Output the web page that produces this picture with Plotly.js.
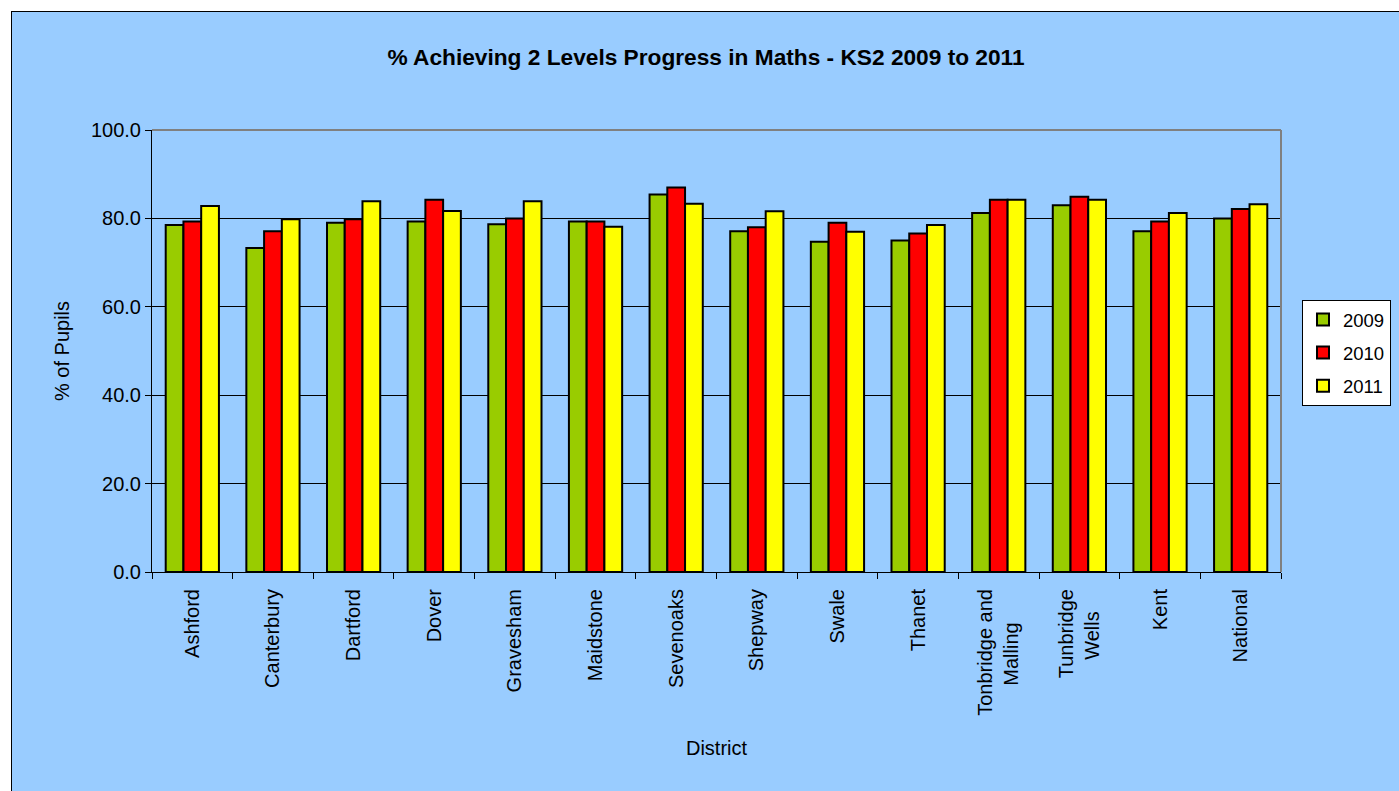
<!DOCTYPE html>
<html>
<head>
<meta charset="utf-8">
<script src="https://cdn.plot.ly/plotly-3.0.1.min.js"></script>
<style>
html,body{margin:0;padding:0;background:#ffffff;overflow:hidden;}
#frame{position:absolute;left:11px;top:11px;width:1388px;height:780px;border-left:1px solid #000;border-top:1px solid #000;background:#99CCFF;}
#chart{width:1388px;height:780px;}
</style>
</head>
<body>
<div id="frame"><div id="chart"></div></div>
<script>
const districts = ["Ashford","Canterbury","Dartford","Dover","Gravesham","Maidstone","Sevenoaks","Shepway","Swale","Thanet","Tonbridge and<br>Malling\u00a0\u00a0\u00a0\u00a0\u00a0\u00a0","Tunbridge<br>Wells\u00a0\u00a0\u00a0\u00a0","Kent","National"];
const years = ["2009","2010","2011"];
const v2009 = [78.5,73.3,79.0,79.3,78.7,79.3,85.4,77.1,74.7,75.0,81.2,83.0,77.1,80.0];
const v2010 = [79.3,77.1,79.8,84.2,80.0,79.3,87.0,78.0,79.0,76.6,84.2,84.9,79.3,82.1];
const v2011 = [82.8,79.8,83.9,81.7,83.9,78.1,83.3,81.6,77.0,78.5,84.2,84.2,81.2,83.2];
const colors = ["#99CC00","#FF0000","#FFFF00"];
const series = [v2009,v2010,v2011];

const font = "'Liberation Sans', Arial, sans-serif";
const fs = 20;
const traces = series.map((vals,i)=>({
  type:"bar", name:years[i], x:districts, y:vals, legendgroup:years[i],
  marker:{color:colors[i], line:{color:"#000000", width:2}},
  hoverinfo:"x+y+name"
}));

const layout = {
  width:1388, height:780,
  paper_bgcolor:"#99CCFF", plot_bgcolor:"#99CCFF",
  margin:{l:140,r:119,t:118,b:220, autoexpand:false},
  barmode:"group", bargap:0.34, bargroupgap:0,
  font:{family:font, size:fs, color:"#000"},
  title:{text:"<b>% Achieving 2 Levels Progress in Maths - KS2 2009 to 2011</b>", x:0.5, xanchor:"center", y:1-45/780, yanchor:"middle", font:{family:font,size:22.7,color:"#000"}},
  xaxis:{
    type:"category", tickangle:-90, ticks:"outside", ticklen:6, tickcolor:"#000", tickson:"boundaries",
    ticklabelstandoff:8,
    showline:true, linecolor:"#000", linewidth:1, showgrid:false,
    title:{text:"District", font:{family:font,size:fs}, standoff:26},
    tickfont:{family:font,size:fs}, automargin:false
  },
  yaxis:{
    range:[0,100], dtick:20, tickformat:".1f", ticks:"outside", ticklen:6, tickcolor:"#000",
    showline:true, linecolor:"#000", linewidth:1, showgrid:true, gridcolor:"#000", gridwidth:1,
    zeroline:false,
    title:{text:"% of Pupils", font:{family:font,size:fs}, standoff:15},
    tickfont:{family:font,size:fs}, automargin:false
  },
  shapes:[
    {type:"line", xref:"paper", yref:"paper", x0:0, x1:1, y0:1, y1:1, line:{color:"#808080", width:2}},
    {type:"line", xref:"paper", yref:"paper", x0:1, x1:1, y0:0, y1:1, line:{color:"#808080", width:2}}
  ],
  legend:{x:(1302-12-140)/1129, y:1-(300-12-118)/442, xanchor:"left", yanchor:"top", bgcolor:"#FFFFFF", bordercolor:"#000", borderwidth:1,
    font:{family:font,size:18.5}, traceorder:"grouped", tracegroupgap:6, itemwidth:30},
  showlegend:true
};
Plotly.newPlot("chart", traces, layout, {displayModeBar:false, staticPlot:true});
</script>
</body>
</html>
